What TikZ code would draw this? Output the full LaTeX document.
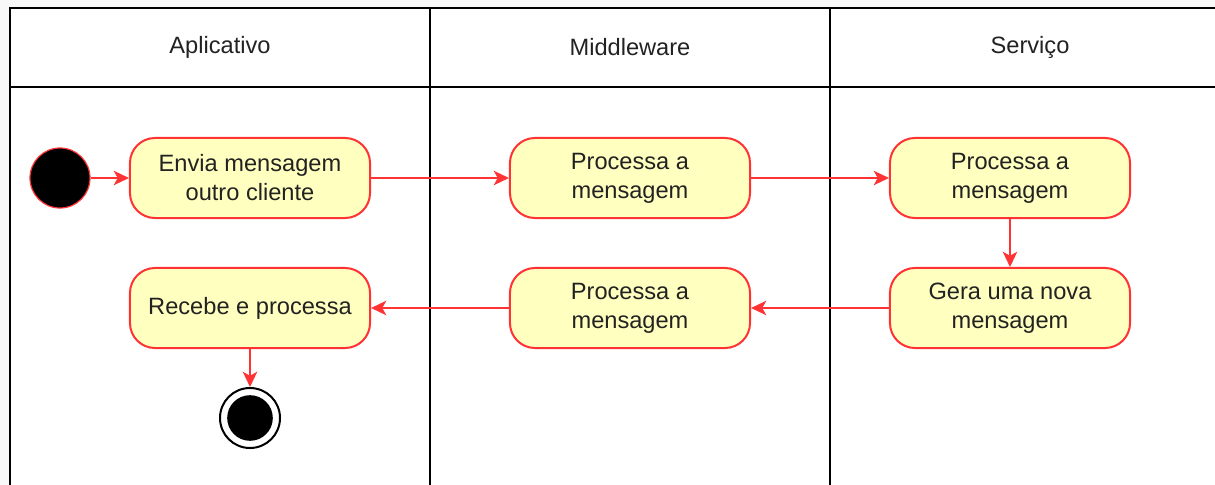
\documentclass[tikz,border=0pt]{standalone}
\usepackage{fontspec}
\setmainfont{Liberation Sans}
\usetikzlibrary{arrows.meta}
\definecolor{fundo}{HTML}{F8F8F8}
\definecolor{amarelo}{HTML}{FFFFC0}
\definecolor{vermelho}{HTML}{FF3333}
\definecolor{texto}{HTML}{222222}
\tikzset{
  acao/.style={draw=vermelho, fill=amarelo, line width=0.05cm, rounded corners=0.625cm,
    minimum width=6cm, minimum height=2cm, align=center, text=texto,
    font=\fontsize{16.8}{20.6}\selectfont},
  inicio/.style={circle, draw=vermelho, fill=black, line width=0.03cm, minimum size=1.5cm, inner sep=0pt},
  fim/.style={circle, draw=black, fill=white, line width=0.05cm, minimum size=1.5cm, inner sep=0pt,
    path picture={\fill[black] (path picture bounding box.center) circle (0.57cm);}},
  raia/.style={text=texto, font=\fontsize{16.8}{20.6}\selectfont},
  fluxo/.style={draw=vermelho, line width=0.05cm, -{Stealth[length=0.38cm,width=0.36cm,inset=0.1cm]}}
}
\begin{document}
\begin{tikzpicture}[x=0.025cm,y=-0.025cm]
\fill[fundo] (0,0) rectangle (1215,485);
\useasboundingbox (0,0) rectangle (1215,485);
\clip (0,0) rectangle (1215,485);
% swimlanes
\fill[white] (10,8) rectangle (1240,500);
\draw[line width=0.045cm] (10,500) -- (10,8) -- (1240,8);
\draw[line width=0.045cm] (10,87) -- (1240,87);
\draw[line width=0.045cm] (430,8) -- (430,500);
\draw[line width=0.045cm] (830,8) -- (830,500);
\node[raia] (app) at (220,47) {Aplicativo};
\node[raia] (mid) at (630,47) {Middleware};
\node[raia] (srv) at (1030,47) {Serviço};
% activities
\node[inicio] (start) at (60,178) {};
\node[acao] (envia) at (250,178) {Envia mensagem\\outro cliente};
\node[acao] (procmid) at (630,178) {Processa a\\mensagem};
\node[acao] (procsrv) at (1010,178) {Processa a\\mensagem};
\node[acao] (gera) at (1010,308) {Gera uma nova\\mensagem};
\node[acao] (volta) at (630,308) {Processa a\\mensagem};
\node[acao] (recebe) at (250,308) {Recebe e processa};
\node[fim] (stop) at (250,418) {};
% flows
\draw[fluxo] (start) -- (envia);
\draw[fluxo] (envia) -- (procmid);
\draw[fluxo] (procmid) -- (procsrv);
\draw[fluxo] (procsrv) -- (gera);
\draw[fluxo] (gera) -- (volta);
\draw[fluxo] (volta) -- (recebe);
\draw[fluxo] (recebe) -- (stop);
\end{tikzpicture}
\end{document}
